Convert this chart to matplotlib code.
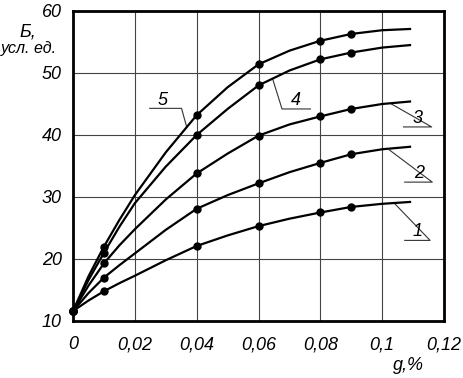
import matplotlib.pyplot as plt

# Valores
X_LINEA = [0, 0.005, 0.01, 0.015, 0.02, 0.03, 0.04, 0.05, 0.06, 0.07, 0.08, 0.09, 0.1, 0.109]
CURVA_1 = [11.6, 13.3, 14.8, 16.1, 17.3, 19.8, 22.1, 23.8, 25.3, 26.5, 27.5, 28.4, 28.9, 29.2]
CURVA_2 = [11.6, 14.5, 17.0, 19.0, 20.9, 24.7, 28.1, 30.3, 32.2, 34.0, 35.5, 36.9, 37.7, 38.1]
CURVA_3 = [11.6, 15.7, 19.3, 22.2, 24.8, 29.6, 33.8, 37.0, 39.9, 41.7, 43.0, 44.2, 45.0, 45.4]
CURVA_4 = [11.6, 16.6, 21.0, 25.2, 29.0, 34.9, 40.0, 44.2, 48.0, 50.4, 52.2, 53.3, 54.1, 54.5]
CURVA_5 = [11.6, 17.2, 22.0, 26.3, 30.3, 37.2, 43.2, 47.7, 51.4, 53.6, 55.2, 56.3, 56.9, 57.1]

X_PUNTOS = [0, 0.01, 0.04, 0.06, 0.08, 0.09]
PUNTOS_1 = [11.6, 14.8, 22.1, 25.3, 27.5, 28.4]
PUNTOS_2 = [11.6, 17.0, 28.1, 32.2, 35.5, 36.9]
PUNTOS_3 = [11.6, 19.3, 33.8, 39.9, 43.0, 44.2]
PUNTOS_4 = [11.6, 21.0, 40.0, 48.0, 52.2, 53.3]
PUNTOS_5 = [11.6, 22.0, 43.2, 51.4, 55.2, 56.3]

ETIQUETAS = ['1', '2', '3', '4', '5']

X_TICKS = [0, 0.02, 0.04, 0.06, 0.08, 0.1, 0.12]
X_TICK_LABELS = ['0', '0,02', '0,04', '0,06', '0,08', '0,1', '0,12']
Y_TICKS = [10, 20, 30, 40, 50, 60]


def main() -> None:
    plt.rcParams['font.family'] = ['Liberation Sans', 'DejaVu Sans']
    plt.rcParams['font.style'] = 'italic'

    fig = plt.figure(figsize=(4.63, 3.78), dpi=100)
    ax = fig.add_axes([0.1577, 0.1508, 0.8013, 0.8201])

    curvas = [CURVA_1, CURVA_2, CURVA_3, CURVA_4, CURVA_5]
    puntos = [PUNTOS_1, PUNTOS_2, PUNTOS_3, PUNTOS_4, PUNTOS_5]
    for c, p in zip(curvas, puntos):
        ax.plot(X_LINEA, c, color='black', lw=1.6, zorder=3)
        ax.plot(X_PUNTOS, p, 'o', color='black', ms=5, zorder=4, clip_on=False)

    # Etiquetas con linea guia: (texto, inicio subrayado, fin subrayado, punto en curva)
    guias = [
        ((0.1114, 24.4), (0.1073, 23.0), (0.1155, 23.0), (0.1041, 28.9)),
        ((0.1119, 33.8), (0.1073, 32.4), (0.1162, 32.4), (0.1023, 37.6)),
        ((0.1114, 42.7), (0.1069, 41.3), (0.1160, 41.3), (0.1030, 45.0)),
        ((0.0722, 45.6), (0.0768, 44.2), (0.0676, 44.2), (0.0646, 49.0)),
        ((0.0291, 45.6), (0.0248, 44.3), (0.0351, 44.3), (0.0367, 41.4)),
    ]
    for etiqueta, (txt, a, b, c) in zip(ETIQUETAS, guias):
        ax.plot([a[0], b[0], c[0]], [a[1], b[1], c[1]], color='#333333', lw=0.8, zorder=2)
        ax.text(txt[0], txt[1], etiqueta, fontsize=13, ha='center', va='center')

    ax.set_xlim(0, 0.12)
    ax.set_ylim(10, 60)
    ax.set_xticks(X_TICKS)
    ax.set_xticklabels(X_TICK_LABELS)
    ax.set_yticks(Y_TICKS)
    ax.tick_params(length=0, labelsize=13)
    ax.tick_params(axis='x', pad=11)
    ax.tick_params(axis='y', pad=8)
    ax.grid(color='#444444', lw=0.8)
    ax.set_axisbelow(True)
    for s in ax.spines.values():
        s.set_linewidth(2)

    fig.text(28 / 463, 1 - 32 / 378, 'Б,', fontsize=13, ha='center', va='center')
    fig.text(29 / 463, 1 - 49 / 378, 'усл. ед.', fontsize=11.5, ha='center', va='center')
    fig.text(408 / 463, 1 - 366 / 378, 'g,%', fontsize=13, ha='center', va='center')

    fig.savefig('out.png', dpi=100)


if __name__ == '__main__':
    main()
